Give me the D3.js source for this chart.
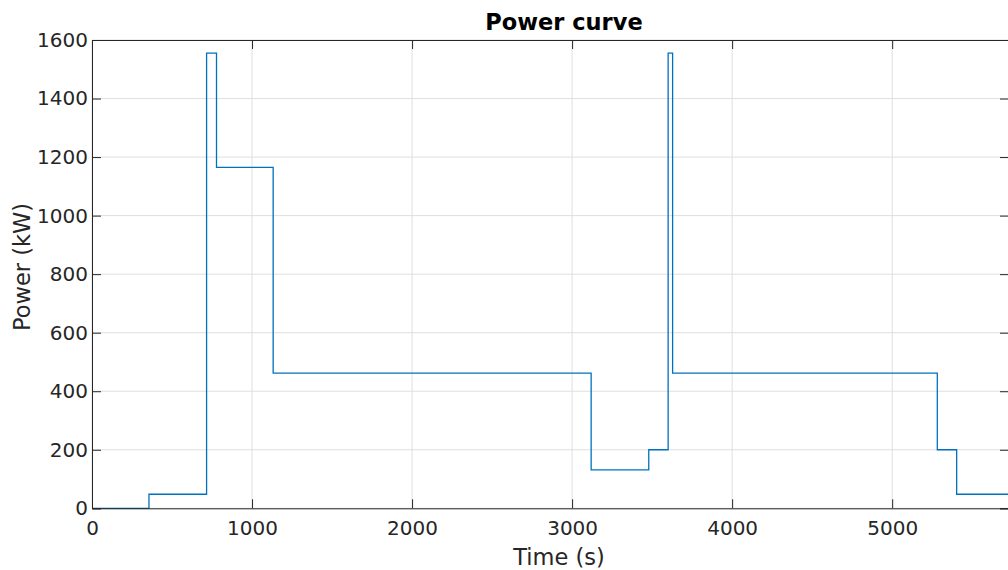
<!DOCTYPE html>
<html>
<meta charset="utf-8">
<head>
  <script src="https://d3js.org/d3.v7.min.js"></script>
  <style>
    body { margin: 0; background: #fff; }
    text { font-family: "DejaVu Sans", sans-serif; fill: #262626; }
  </style>
</head>
<body>
<script>
    // step times (s) and power (kW)
    var times = [0, 356, 716, 778, 1132, 3119, 3479, 3600, 3628, 5282, 5403, 5730] ;
    var power = [0, 48, 1555, 1165, 462, 131, 200, 1555, 462, 200, 48, 48] ;
    var xTicks = [0, 1000, 2000, 3000, 4000, 5000] ;
    var yTicks = [0, 200, 400, 600, 800, 1000, 1200, 1400, 1600] ;

    const W = 1008, H = 570 ;
    const mLeft = 92, mRight = 1009, mTop = 40, mBottom = 508.3 ;

    var svg = d3.select('body').append('svg').attr('width', W).attr('height', H) ;

    var x = d3.scaleLinear().domain([0, 5730]).range([mLeft, mRight]) ;
    var y = d3.scaleLinear().domain([0, 1600]).range([mBottom, mTop]) ;

    // grid
    var grid = svg.append('g') ;
    grid.selectAll('.gx').data(xTicks).join('line').attr('class', 'gx')
	.attr('x1', d => x(d)).attr('x2', d => x(d))
	.attr('y1', mTop).attr('y2', mBottom)
	.attr('stroke', '#dfdfdf').attr('stroke-width', 1) ;
    grid.selectAll('.gy').data(yTicks).join('line').attr('class', 'gy')
	.attr('x1', mLeft).attr('x2', mRight)
	.attr('y1', d => y(d)).attr('y2', d => y(d))
	.attr('stroke', '#dfdfdf').attr('stroke-width', 1) ;

    // the curve
    var pts = times.map((t, i) => [t, power[i]]) ;
    var line = d3.line().x(d => x(d[0])).y(d => y(d[1])).curve(d3.curveStepAfter) ;
    svg.append('path').datum(pts)
	.attr('d', line)
	.attr('fill', 'none')
	.attr('stroke', '#0072BD')
	.attr('stroke-width', 1.3) ;

    // axes, ticks inward like matlab
    var xAxis = d3.axisBottom(x).tickValues(xTicks).tickSize(-9).tickPadding(13).tickFormat(d3.format('d')) ;
    var yAxis = d3.axisLeft(y).tickValues(yTicks).tickSize(-9).tickPadding(4).tickFormat(d3.format('d')) ;

    var gx = svg.append('g').attr('transform', `translate(0,${mBottom})`).call(xAxis) ;
    var gy = svg.append('g').attr('transform', `translate(${mLeft},0)`).call(yAxis) ;
    [gx, gy].forEach(g => {
	g.select('.domain').attr('stroke', '#262626') ;
	g.selectAll('.tick line').attr('stroke', '#262626') ;
	g.selectAll('.tick text').style('font-size', '20px').attr('fill', '#262626') ;
    }) ;

    // top and right box with ticks
    svg.append('g').attr('transform', `translate(0,${mTop})`)
	.call(d3.axisTop(x).tickValues(xTicks).tickSize(-9).tickFormat(''))
	.call(g => g.selectAll('line, path').attr('stroke', '#262626')) ;
    svg.append('g').attr('transform', `translate(${mRight},0)`)
	.call(d3.axisRight(y).tickValues(yTicks).tickSize(-9).tickFormat(''))
	.call(g => g.selectAll('line, path').attr('stroke', '#262626')) ;

    // labels
    svg.append('text').attr('x', 564).attr('y', 30)
	.attr('text-anchor', 'middle').style('font-size', '22.5px').style('font-weight', 'bold')
	.style('fill', '#000')
	.text('Power curve') ;
    svg.append('text').attr('x', 559).attr('y', 565)
	.attr('text-anchor', 'middle').style('font-size', '22.5px')
	.text('Time (s)') ;
    svg.append('text').attr('transform', 'translate(30,267) rotate(-90)')
	.attr('text-anchor', 'middle').style('font-size', '22.5px')
	.text('Power (kW)') ;
</script>
</body>
</html>
